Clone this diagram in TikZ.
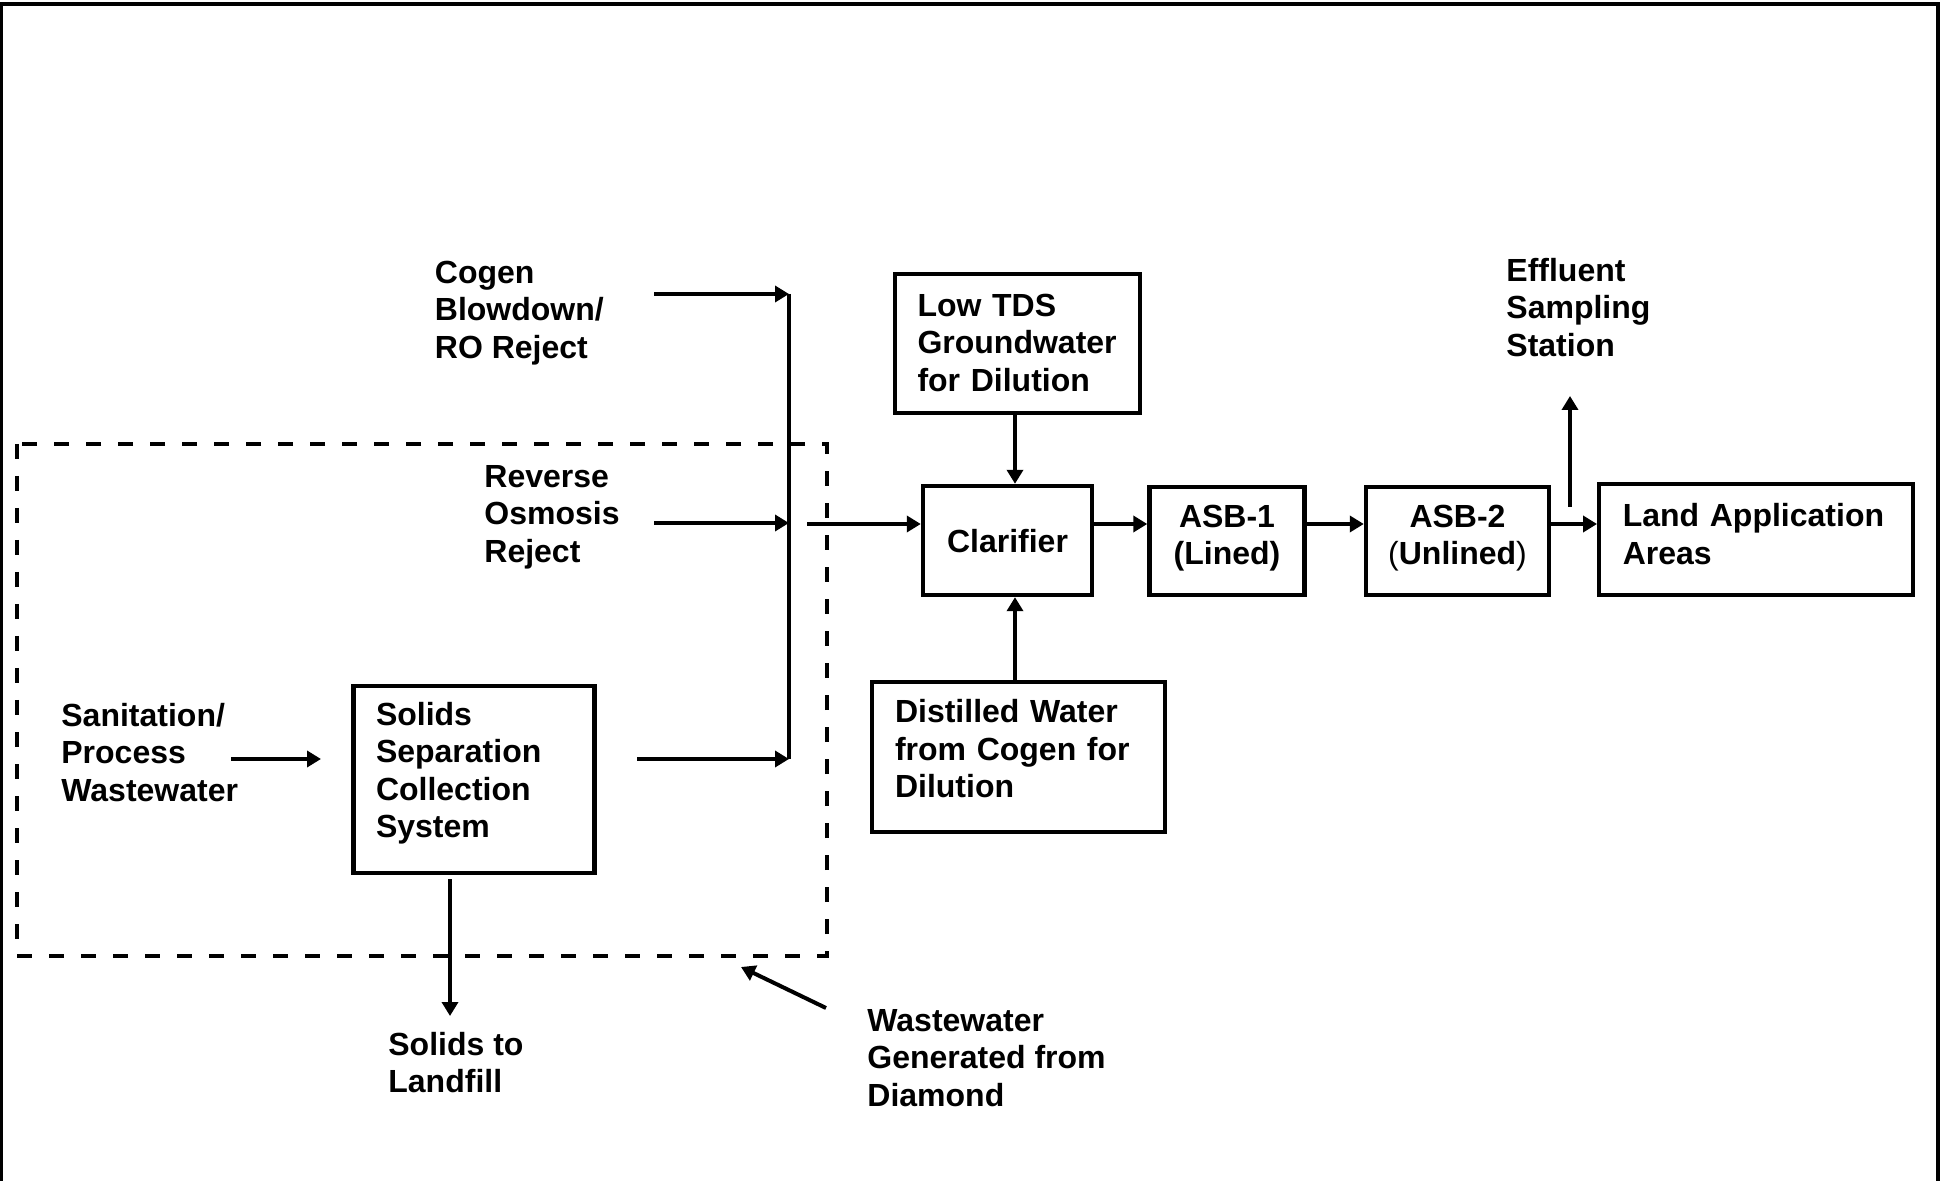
\documentclass[tikz,border=0pt]{standalone}
\usepackage{fontspec}
\setmainfont{Liberation Sans}
\usetikzlibrary{arrows.meta}
\newcommand{\firststrut}{\rule{0pt}{12pt}}
\newcommand{\laststrut}[1]{\rule[-#1]{0pt}{#1}}
\begin{document}
\begin{tikzpicture}[x=0.5pt,y=-0.5pt,
  every node/.style={font=\fontsize{16}{18.7}\selectfont\bfseries},
  lbl/.style={anchor=north west, inner sep=0pt, align=left},
  boxl/.style={draw, line width=2.2pt, align=left, inner ysep=0pt},
  boxc/.style={draw, line width=2.2pt, align=center, inner sep=0pt},
  flow/.style={line width=2pt, -{Triangle[length=7pt,width=8pt]}},
  pipe/.style={line width=2pt},
  dashbox/.style={line width=2.2pt, dash pattern=on 7.5pt off 8.5pt},
  frame/.style={line width=1.6pt}]
\useasboundingbox (0,0) rectangle (1944,1181);
\fill[white] (0,0) rectangle (1944,1181);
\draw[frame] (1.5,1181) -- (1.5,4) -- (1938,4) -- (1938,1181);

% boxes
\node[boxl, text width=100pt, inner xsep=11.25pt, minimum height=69.5pt] (lowtds) at (1017.5,343.5)
  {\firststrut Low TDS\\Groundwater\\for Dilution\laststrut{1.5pt}};
\node[boxc, minimum width=84.5pt, minimum height=54.5pt] (clar) at (1007.5,540.5)
  {\firststrut Clarifier};
\node[boxc, minimum width=77.5pt, minimum height=54pt] (asb1) at (1227,541)
  {\firststrut ASB-1\\(Lined)\laststrut{7pt}};
\node[boxc, minimum width=91.5pt, minimum height=54pt] (asb2) at (1457.5,541)
  {\firststrut ASB-2\\{\mdseries(}Unlined{\mdseries)}\laststrut{7pt}};
\node[boxl, text width=133.25pt, inner xsep=11.75pt, minimum height=55.5pt] (land) at (1756,539.5)
  {\firststrut Land Application\\Areas\laststrut{6pt}};
\node[boxl, text width=123.5pt, inner xsep=11.5pt, minimum height=75pt] (distilled) at (1018.5,757)
  {\firststrut Distilled Water\\from Cogen for\\Dilution\laststrut{9pt}};
\node[boxl, text width=98pt, inner xsep=11.25pt, minimum height=93.5pt] (solids) at (474,779.5)
  {\firststrut Solids\\Separation\\Collection\\System\laststrut{10pt}};

% free labels
\node[lbl] (cogen) at (434.5,259) {\firststrut Cogen\\Blowdown/\\RO Reject};
\node[lbl] (ro) at (484,463) {\firststrut Reverse\\Osmosis\\Reject};
\node[lbl] (sanit) at (61,702) {\firststrut Sanitation/\\Process\\Wastewater};
\node[lbl] (solidsto) at (388,1031) {\firststrut Solids to\\Landfill};
\node[lbl] (wastegen) at (867,1007) {\firststrut Wastewater\\Generated from\\Diamond};
\node[lbl] (effluent) at (1506,257) {\firststrut Effluent\\Sampling\\Station};

% dashed boundary
\draw[dashbox] (17,444) rectangle (827,956);

% coordinates
\coordinate (cogenS) at (654,294);
\coordinate (busTop) at (789,294);
\coordinate (roS) at (654,523);
\coordinate (busRO) at (789,523);
\coordinate (solS) at (637,759);
\coordinate (busBot) at (789,759);
\coordinate (sanS) at (231,759);
\coordinate (sanE) at (321,759);
\coordinate (outS) at (807,524);
\coordinate (fy) at (0,524);
\coordinate (effS) at (1570,507);
\coordinate (effE) at (1570,396);
\coordinate (vx) at (1015,0);
\coordinate (lfS) at (450,879);
\coordinate (lfE) at (450,1016);
\coordinate (wgS) at (826,1008);
\coordinate (wgE) at (741,967);

% connectors
\draw[pipe] (busTop) -- (busBot);
\draw[flow] (cogenS) -- (busTop);
\draw[flow] (roS) -- (busRO);
\draw[flow] (solS) -- (busBot);
\draw[flow] (sanS) -- (sanE);
\draw[flow] (outS) -- (outS -| clar.west);
\draw[flow] (clar.east |- fy) -- (asb1.west |- fy);
\draw[flow] (asb1.east |- fy) -- (asb2.west |- fy);
\draw[flow] (asb2.east |- fy) -- (land.west |- fy);
\draw[flow] (effS) -- (effE);
\draw[flow] (lowtds.south -| vx) -- (clar.north -| vx);
\draw[flow] (distilled.north -| vx) -- (clar.south -| vx);
\draw[flow] (lfS) -- (lfE);
\draw[flow] (wgS) -- (wgE);
\end{tikzpicture}
\end{document}
